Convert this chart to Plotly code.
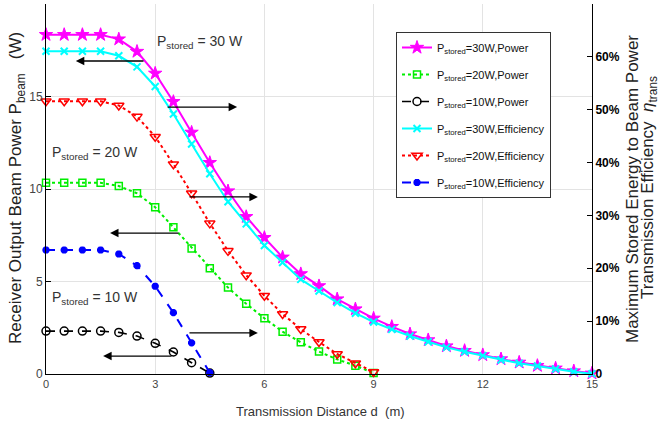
import plotly.graph_objects as go

# ---------------- data ----------------
d_30 = [0, 0.5, 1, 1.5, 2, 2.5, 3, 3.5, 4, 4.5, 5, 5.5, 6, 6.5, 7, 7.5, 8, 8.5, 9, 9.5,
        10, 10.5, 11, 11.5, 12, 12.5, 13, 13.5, 14, 14.5, 15]
d_20 = [0, 0.5, 1, 1.5, 2, 2.5, 3, 3.5, 4, 4.5, 5, 5.5, 6, 6.5, 7, 7.5, 8, 8.5, 9]
d_10 = [0, 0.5, 1, 1.5, 2, 2.5, 3, 3.5, 4, 4.5]

power_30 = [18.34, 18.34, 18.34, 18.34, 18.1, 17.43, 16.25, 14.72, 13.06, 11.42, 9.89,
            8.5, 7.37, 6.31, 5.41, 4.76, 4.05, 3.51, 3.01, 2.56, 2.16, 1.84, 1.51, 1.26,
            1.03, 0.81, 0.63, 0.45, 0.31, 0.16, 0.04]
power_20 = [10.34, 10.34, 10.34, 10.34, 10.16, 9.77, 9.01, 7.93, 6.79, 5.71, 4.67, 3.8,
            3.01, 2.29, 1.71, 1.21, 0.79, 0.45, 0.05]
power_10 = [2.32, 2.32, 2.32, 2.32, 2.25, 2.05, 1.66, 1.19, 0.61, 0.05]

eff_30 = [61.05, 61.05, 61.05, 61.05, 60.2, 58.1, 54.4, 49.2, 43.5, 37.9, 32.6, 28.4,
          24.3, 21.1, 17.9, 15.7, 13.5, 11.5, 9.84, 8.45, 7.19, 6.1, 5.04, 4.2, 3.47,
          2.65, 2.02, 1.5, 0.95, 0.44, 0.06]
eff_20 = [51.6, 51.6, 51.6, 51.6, 50.8, 48.7, 44.9, 39.7, 34.2, 28.5, 23.3, 18.7, 14.8,
          11.35, 8.5, 6.05, 3.78, 2.02, 0.38]
eff_10 = [23.46, 23.46, 23.46, 23.46, 22.7, 20.5, 16.6, 11.6, 5.9, 0.25]

x_ticks = [0, 3, 6, 9, 12, 15]
y_ticks = [0, 5, 10, 15, 20]
y2_ticks = [0, 10, 20, 30, 40, 50, 60, 70]
y2_labels = ["0", "10%", "20%", "30%", "40%", "50%", "60%", "70%"]

FONT = "Liberation Sans, Arial, sans-serif"

fig = go.Figure()

def add(x, y, name, color, dash, symbol, size, axis, lw=1.6, mlw=1.5):
    fig.add_trace(go.Scatter(
        x=x, y=y, name=name, yaxis=axis, mode="lines+markers", legendgroup=name,
        line=dict(color=color, width=lw, dash=dash),
        marker=dict(symbol=symbol, size=size, color=color,
                    line=dict(color=color, width=mlw)),
        cliponaxis=False))

sub = "P<sub>stored</sub>"
add(d_30, power_30, sub + "=30W,Power", "#ff00ff", "solid", "star", 10, "y", 2, 1)
add(d_20, power_20, sub + "=20W,Power", "#00ee00", "dot", "square-open", 7, "y", 2, 1.5)
add(d_10, power_10, sub + "=10W,Power", "#000000", "dash", "circle-open", 8, "y", 1.6, 1.5)
add(d_30, eff_30, sub + "=30W,Efficiency", "#00ffff", "solid", "x-thin-open", 7, "y2", 2, 2)
add(d_20, eff_20, sub + "=20W,Efficiency", "#ff0000", "dot", "triangle-down-open", 9, "y2", 2, 1.5)
add(d_10, eff_10, sub + "=10W,Efficiency", "#0000ff", "dash", "asterisk-open", 6, "y2", 2, 2.5)

annotations = []
# arrows (tail -> head) in data coords of left axis
arrows = [((2.72, 16.92), (0.82, 16.92)),
          ((3.30, 14.43), (5.25, 14.43)),
          ((3.90, 9.57), (5.82, 9.57)),
          ((3.68, 7.62), (1.76, 7.62)),
          ((3.90, 2.22), (5.82, 2.22)),
          ((3.49, 0.97), (1.57, 0.97))]
for (tx, ty), (hx, hy) in arrows:
    annotations.append(dict(x=hx, y=hy, ax=tx, ay=ty, xref="x", yref="y",
                            axref="x", ayref="y", text="", showarrow=True,
                            arrowhead=2, arrowsize=1.3, arrowwidth=1.3,
                            arrowcolor="black"))

labels = [(2.99, 17.95, sub + " = 30 W"),
          (0.11, 11.95, sub + " = 20 W"),
          (0.11, 4.1, sub + " = 10 W")]
for x, y, t in labels:
    annotations.append(dict(x=x, y=y, xref="x", yref="y", text=t, showarrow=False,
                            xanchor="left", yanchor="middle",
                            font=dict(size=14, color="#333333", family=FONT)))

# axis titles (pixel positions, converted below)
annotations.append(dict(x=17, y=188, xref="paper", yref="paper",
                        text="Receiver Output Beam Power P<sub>beam</sub>   (W)",
                        textangle=-90, showarrow=False, xanchor="center", yanchor="middle",
                        font=dict(size=17, color="#222222", family=FONT)))
annotations.append(dict(x=632, y=189, xref="paper", yref="paper",
                        text="Maximum Stored Energy to Beam Power",
                        textangle=-90, showarrow=False, xanchor="center", yanchor="middle",
                        font=dict(size=17, color="#222222", family=FONT)))
annotations.append(dict(x=649, y=188, xref="paper", yref="paper",
                        text="Transmission Efficiency  <i>η</i><sub>trans</sub>",
                        textangle=-90, showarrow=False, xanchor="center", yanchor="middle",
                        font=dict(size=17, color="#222222", family=FONT)))
annotations.append(dict(x=320, y=411, xref="paper", yref="paper",
                        text="Transmission Distance d  (m)", showarrow=False,
                        xanchor="center", yanchor="middle",
                        font=dict(size=13, color="#333333", family=FONT)))

L, R, T, B = 46, 67, 4, 53
W, H = 659, 427
pw, ph = W - L - R, H - T - B
for a in annotations:
    if a.get("xref") == "paper":
        a["x"] = (a["x"] - L) / pw
        a["y"] = (H - B - a["y"]) / ph

fig.update_layout(
    width=W, height=H,
    margin=dict(l=L, r=R, t=T, b=B, autoexpand=False),
    paper_bgcolor="white", plot_bgcolor="white",
    font=dict(family=FONT, size=12, color="#333333"),
    showlegend=True,
    legend=dict(x=(396 - L) / pw, y=(H - B - 32) / ph, xanchor="left", yanchor="top",
                bgcolor="white", bordercolor="#333333", borderwidth=1,
                font=dict(size=11, color="#111111", family=FONT),
                itemwidth=30, tracegroupgap=8),
    xaxis=dict(range=[0, 15], tickvals=x_ticks, showgrid=True, gridcolor="#e3e3e3",
               gridwidth=1, zeroline=False, showline=True, linecolor="black",
               linewidth=1, ticks="", tickfont=dict(size=11, color="#444444")),
    yaxis=dict(range=[0, 20], tickvals=y_ticks, showgrid=True, gridcolor="#e3e3e3",
               gridwidth=1, zeroline=False, showline=True, linecolor="black",
               linewidth=1, ticks="inside", ticklen=5, tickcolor="black",
               tickfont=dict(size=12, color="#444444")),
    yaxis2=dict(range=[0, 70], overlaying="y", side="right", tickvals=y2_ticks,
                ticktext=["<b>" + t + "</b>" for t in y2_labels], showgrid=False,
                zeroline=False, showline=True, linecolor="black", linewidth=1,
                ticks="inside", ticklen=5, tickcolor="black",
                tickfont=dict(size=12, color="black")),
    annotations=annotations,
)

fig.write_html("out.html", post_script="document.body.style.margin='0';",
               config={"displayModeBar": False})
